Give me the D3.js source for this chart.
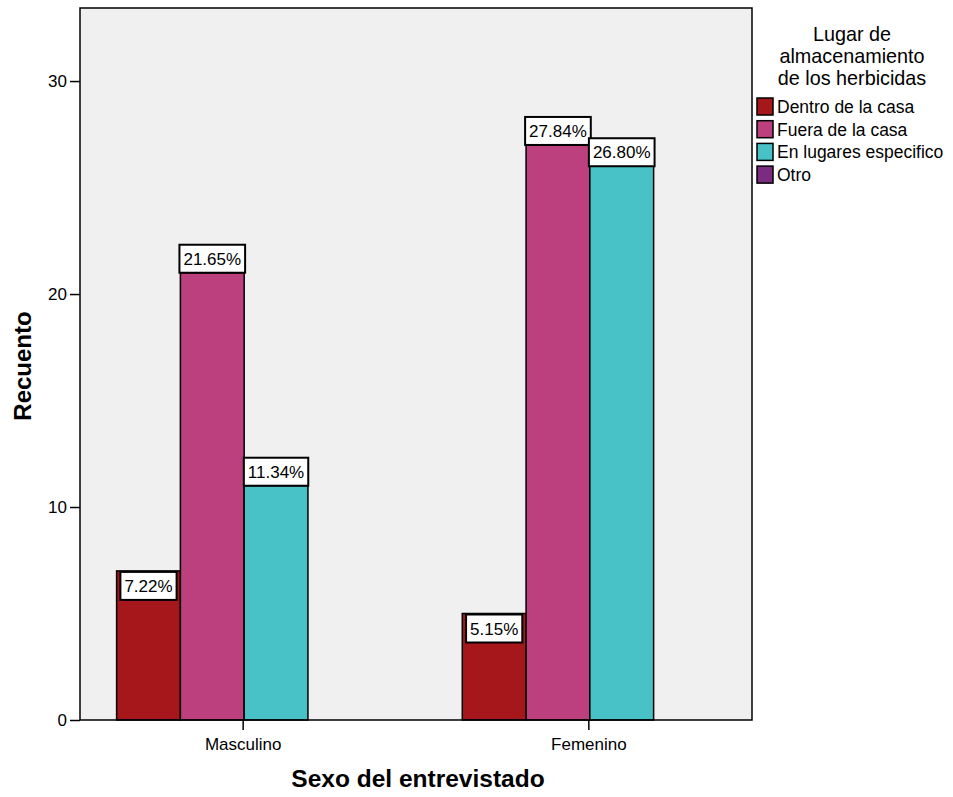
<!DOCTYPE html>
<html>
<head>
<meta charset="utf-8">
<script src="https://cdn.jsdelivr.net/npm/d3@7"></script>
<style>
  html, body { margin: 0; padding: 0; background: #fff; }
  svg { display: block; font-family: "Liberation Sans", Arial, sans-serif; }
</style>
</head>
<body>
<svg id="chart" width="953" height="797"></svg>
<script>
// Counts of herbicide storage place by sex of the interviewee
const categories = ["Masculino", "Femenino"];
const seriesNames = ["Dentro de la casa", "Fuera de la casa", "En lugares especifico", "Otro"];
const seriesColors = ["#a5171b", "#bc3f7e", "#48c2c6", "#7b2c80"];
const masculino = [7, 21, 11, 0];
const femenino = [5, 27, 26, 0];
const yTicks = [0, 10, 20, 30];
const legendTitle = ["Lugar de", "almacenamiento", "de los herbicidas"];

const values = [masculino, femenino];
const total = d3.sum(values.flat());

const svg = d3.select("#chart");
const m = { left: 80, right: 752, top: 8, bottom: 720 };

const x0 = d3.scaleBand().domain(categories).range([m.left, m.right])
  .paddingInner(0.262).paddingOuter(0.103);
const x1 = d3.scaleBand().domain(seriesNames).range([0, x0.bandwidth()]);
const y = d3.scaleLinear().domain([0, 33.43]).range([m.bottom, m.top]);

// plot background
svg.append("rect")
  .attr("x", m.left).attr("y", m.top)
  .attr("width", m.right - m.left).attr("height", m.bottom - m.top)
  .attr("fill", "#f0f0f0");

// bars
const groups = svg.append("g").selectAll("g")
  .data(categories.map((c, i) => ({ cat: c, vals: values[i] })))
  .join("g")
  .attr("transform", d => `translate(${x0(d.cat) + 1},0)`);

groups.selectAll("rect")
  .data(d => d.vals.map((v, j) => ({ name: seriesNames[j], v, j })).filter(e => e.v > 0))
  .join("rect")
  .attr("x", e => x1(e.name))
  .attr("y", e => y(e.v))
  .attr("width", x1.bandwidth())
  .attr("height", e => y(0) - y(e.v))
  .attr("fill", e => seriesColors[e.j])
  .attr("stroke", "#000")
  .attr("stroke-width", 1.5);

// percentage labels
groups.each(function(d) {
  const g = d3.select(this);
  d.vals.forEach((v, j) => {
    if (v <= 0) return;
    const txt = (v / total * 100).toFixed(2) + "%";
    const cx = x1(seriesNames[j]) + x1.bandwidth() / 2;
    const h = 28;
    const top = j === 0 ? y(v) + 1 : y(v) - h;
    const lg = g.append("g");
    const t = lg.append("text")
      .attr("x", cx).attr("y", top + h / 2 + 6)
      .attr("text-anchor", "middle")
      .attr("font-size", 17)
      .attr("fill", "#000")
      .text(txt);
    const w = t.node().getComputedTextLength() + 8;
    lg.insert("rect", "text")
      .attr("x", cx - w / 2).attr("y", top)
      .attr("width", w).attr("height", h)
      .attr("fill", "#fff")
      .attr("stroke", "#000")
      .attr("stroke-width", 2);
  });
});

// plot frame
svg.append("rect")
  .attr("x", m.left).attr("y", m.top)
  .attr("width", m.right - m.left).attr("height", m.bottom - m.top)
  .attr("fill", "none").attr("stroke", "#000").attr("stroke-width", 1.5);

// y axis
const yAxis = svg.append("g")
  .attr("transform", `translate(${m.left},0)`)
  .call(d3.axisLeft(y).tickValues(yTicks).tickSize(10).tickPadding(3));
yAxis.select(".domain").remove();
yAxis.selectAll("line").attr("stroke", "#000").attr("stroke-width", 1.5);
yAxis.selectAll("text").attr("font-size", 17).attr("fill", "#000")
  .attr("font-family", "Liberation Sans, Arial, sans-serif");

// x axis
const xAxis = svg.append("g")
  .attr("transform", `translate(0,${m.bottom})`)
  .call(d3.axisBottom(x0).tickSize(10).tickPadding(8));
xAxis.select(".domain").remove();
xAxis.selectAll("line").attr("stroke", "#000").attr("stroke-width", 1.5);
xAxis.selectAll("text").attr("font-size", 17).attr("fill", "#000")
  .attr("font-family", "Liberation Sans, Arial, sans-serif");

// axis titles
svg.append("text")
  .attr("x", (m.left + m.right) / 2 + 2).attr("y", 787)
  .attr("text-anchor", "middle")
  .attr("font-size", 24.5).attr("font-weight", "bold")
  .text("Sexo del entrevistado");

svg.append("text")
  .attr("transform", `translate(31,${(m.top + m.bottom) / 2 + 2}) rotate(-90)`)
  .attr("text-anchor", "middle")
  .attr("font-size", 24).attr("font-weight", "bold")
  .text("Recuento");

// legend
const lg = svg.append("g");
lg.selectAll("text.title")
  .data(legendTitle)
  .join("text")
  .attr("class", "title")
  .attr("x", 852).attr("y", (d, i) => 40.5 + i * 22.2)
  .attr("text-anchor", "middle")
  .attr("font-size", 19.8)
  .text(d => d);

const items = lg.selectAll("g.item")
  .data(seriesNames)
  .join("g")
  .attr("class", "item")
  .attr("transform", (d, i) => `translate(757,${98 + i * 22.7})`);
items.append("rect")
  .attr("width", 16).attr("height", 17)
  .attr("fill", (d, i) => seriesColors[i])
  .attr("stroke", "#000").attr("stroke-width", 1.5);
items.append("text")
  .attr("x", 20).attr("y", 15)
  .attr("font-size", 17.5)
  .text(d => d);
</script>
</body>
</html>
